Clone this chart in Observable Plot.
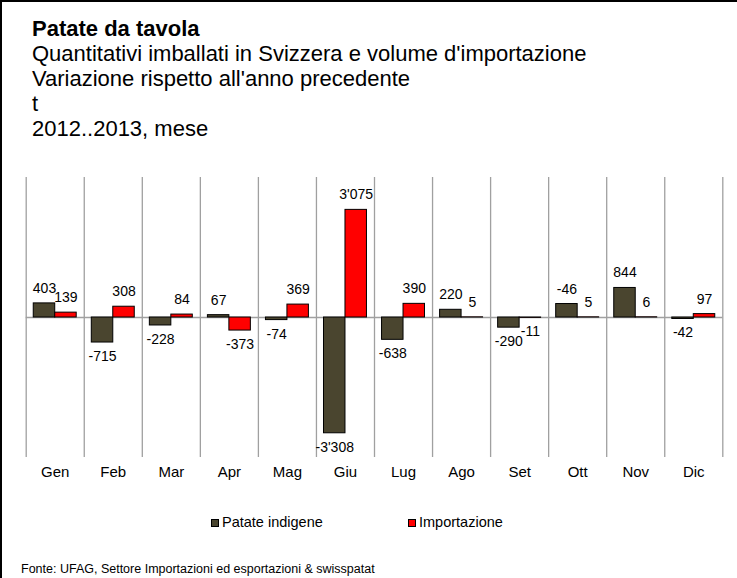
<!DOCTYPE html>
<html><head><meta charset="utf-8">
<script src="https://cdn.jsdelivr.net/npm/d3@7"></script>
<script src="https://cdn.jsdelivr.net/npm/@observablehq/plot@0.6"></script>
<style>
body{margin:0;background:#fff;}
#fig{position:relative;width:737px;height:578px;overflow:hidden;font-family:"Liberation Sans",Arial,sans-serif;color:#000;background:#fff;}
#frameTop{position:absolute;left:0;top:0;width:737px;height:2px;background:#000}
#frameLeft{position:absolute;left:0;top:0;width:2px;height:578px;background:#000}
#titles{position:absolute;left:32px;top:16px;font-size:22px;line-height:25px;white-space:nowrap;}
#titles .t{font-weight:bold;}
#chart{position:absolute;left:0;top:160px;}
.leg{position:absolute;top:513px;font-size:14.5px;line-height:18px;white-space:nowrap;}
.leg i{display:inline-block;width:6px;height:6px;border:1px solid #000;margin-right:3px;vertical-align:0px;}
#caption{position:absolute;left:21px;top:562px;font-size:12.5px;line-height:14px;white-space:nowrap;}
</style></head>
<body>
<div id="fig">
  <div id="frameTop"></div><div id="frameLeft"></div>
  <div id="titles">
    <div class="t">Patate da tavola</div>
    <div>Quantitativi imballati in Svizzera e volume d'importazione</div>
    <div>Variazione rispetto all'anno precedente</div>
    <div>t</div>
    <div>2012..2013, mese</div>
  </div>
  <div id="chart"></div>
  <div id="legend"></div>
  <div id="caption">Fonte: UFAG, Settore Importazioni ed esportazioni &amp; swisspatat</div>
</div>
<script>
const months = ["Gen","Feb","Mar","Apr","Mag","Giu","Lug","Ago","Set","Ott","Nov","Dic"];
const series = ["Patate indigene","Importazione"];
const colors = ["#4a452f","#ff0000"];
// bar heights as drawn
const patate = [403, -715, -228, 67, -74, -3308, -638, 220, -290, 385, 844, -42];
const importazione = [139, 308, 84, -373, 369, 3075, 390, 5, -11, 5, 6, 97];
// values printed as labels
const patateLabels = [403, -715, -228, 67, -74, -3308, -638, 220, -290, -46, 844, -42];
const importazioneLabels = [139, 308, 84, -373, 369, 3075, 390, 5, -11, 5, 6, 97];

const fmt = d3.formatLocale({decimal: ".", thousands: "'", grouping: [3], currency: ["", ""], minus: "-"}).format(",d");

const rows = [];
months.forEach((m, i) => {
  rows.push({i, month: m, s: 0, value: patate[i], label: fmt(patateLabels[i])});
  rows.push({i, month: m, s: 1, value: importazione[i], label: fmt(importazioneLabels[i])});
});

const GAP = 0.13, W = 0.37;
const bx1 = d => d.i + GAP + d.s * W;
const bx2 = d => d.i + GAP + (d.s + 1) * W;
const bxc = d => d.i + GAP + (d.s + 0.5) * W;

const chart = Plot.plot({
  width: 737,
  height: 340,
  marginLeft: 25.7,
  marginRight: 14.7,
  marginTop: 17,
  marginBottom: 43,
  x: {domain: [0, months.length], axis: null},
  y: {domain: [-4000, 4000], axis: null},
  color: {domain: series, range: colors},
  style: {fontFamily: "'Liberation Sans', Arial, sans-serif", fontSize: "14px", background: "transparent", overflow: "visible"},
  marks: [
    Plot.ruleX(d3.range(months.length + 1), {stroke: "#a0a0a0", strokeWidth: 1.3}),
    Plot.ruleY([0], {stroke: "#a0a0a0", strokeWidth: 1.3}),
    Plot.rectY(rows, {x1: bx1, x2: bx2, y1: 0, y2: "value", fill: d => series[d.s], stroke: "#000", strokeWidth: 1}),
    Plot.text(rows.filter(d => d.value >= 0), {x: bxc, y: "value", text: "label", dy: -15, fill: "#000"}),
    Plot.text(rows.filter(d => d.value < 0), {x: bxc, y: "value", text: "label", dy: 14, fill: "#000"}),
    Plot.text(months, {x: (d, i) => i + 0.5, frameAnchor: "bottom", dy: 19, text: d => d, fontSize: 15, fill: "#000"})
  ]
});
document.getElementById("chart").appendChild(chart);

const legendX = [211, 408];
const legend = document.getElementById("legend");
series.forEach((s, k) => {
  const el = document.createElement("div");
  el.className = "leg";
  el.style.left = legendX[k] + "px";
  const sw = document.createElement("i");
  sw.style.background = colors[k];
  el.appendChild(sw);
  el.appendChild(document.createTextNode(s));
  legend.appendChild(el);
});
</script>
</body></html>
